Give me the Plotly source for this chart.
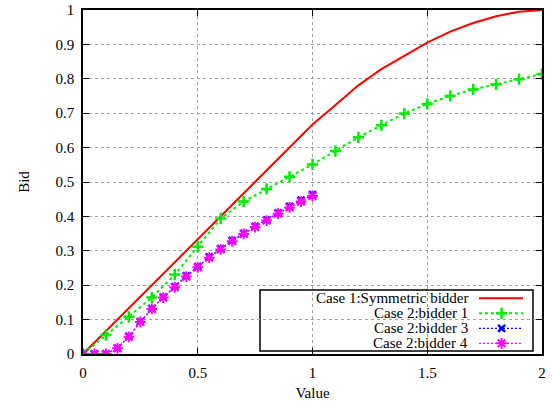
import plotly.graph_objects as go

# ---- data ----
red_x = [0.0, 0.5, 1.0, 1.1, 1.2, 1.3, 1.4, 1.5, 1.6, 1.7, 1.8, 1.9, 2.0]
red_y = [0.0, 0.333, 0.667, 0.724, 0.781, 0.828, 0.867, 0.905, 0.937, 0.962, 0.982, 0.995, 1.0]

b1_x = [0.0, 0.1, 0.2, 0.3, 0.4, 0.5, 0.6, 0.7, 0.8, 0.9, 1.0,
        1.1, 1.2, 1.3, 1.4, 1.5, 1.6, 1.7, 1.8, 1.9, 2.0]
b1_y = [0.0, 0.055, 0.108, 0.164, 0.231, 0.312, 0.394, 0.443, 0.48, 0.515, 0.551,
        0.590, 0.630, 0.665, 0.699, 0.727, 0.750, 0.769, 0.784, 0.799, 0.814]

b34_x = [0.0, 0.05, 0.1, 0.15, 0.2, 0.25, 0.3, 0.35, 0.4, 0.45, 0.5,
         0.55, 0.6, 0.65, 0.7, 0.75, 0.8, 0.85, 0.9, 0.95, 1.0]
b3_y = [0.0, 0.0, 0.0, 0.017, 0.051, 0.094, 0.132, 0.165, 0.196, 0.227, 0.254,
        0.282, 0.306, 0.330, 0.351, 0.371, 0.390, 0.410, 0.429, 0.447, 0.463]
b4_y = [0.0, 0.0, 0.0, 0.0165, 0.050, 0.093, 0.131, 0.164, 0.194, 0.225, 0.252,
        0.280, 0.304, 0.328, 0.349, 0.369, 0.388, 0.408, 0.426, 0.443, 0.459]

names = ["Case 1:Symmetric bidder", "Case 2:bidder 1", "Case 2:bidder 3", "Case 2:bidder 4"]

x_ticks = [0, 0.5, 1, 1.5, 2]
x_ticklabels = ["0", "0.5", "1", "1.5", "2"]
y_ticks = [0, 0.1, 0.2, 0.3, 0.4, 0.5, 0.6, 0.7, 0.8, 0.9, 1.0]
y_ticklabels = ["0", "0.1", "0.2", "0.3", "0.4", "0.5", "0.6", "0.7", "0.8", "0.9", "1"]

FONT = "Liberation Serif"

styles = [
    dict(color="#ff0000", dash="solid", width=2, symbol=None, size=0, mlw=0),
    dict(color="#00ee00", dash="dot", width=2, symbol="cross-thin", size=8, mlw=2.5),
    dict(color="#0000ff", dash="2px,2px", width=1.2, symbol="x-thin", size=7, mlw=2.5),
    dict(color="#ff00ff", dash="2px,2px", width=1.2, symbol="asterisk", size=9, mlw=2),
]

fig = go.Figure()

series = [(red_x, red_y), (b1_x, b1_y), (b34_x, b3_y), (b34_x, b4_y)]
for (xs, ys), st, nm in zip(series, styles, names):
    if st["symbol"] is None:
        fig.add_trace(go.Scatter(x=xs, y=ys, mode="lines", name=nm, showlegend=False,
                                 line=dict(color=st["color"], width=st["width"], dash=st["dash"])))
    else:
        fig.add_trace(go.Scatter(x=xs, y=ys, mode="lines+markers", name=nm, showlegend=False,
                                 line=dict(color=st["color"], width=st["width"], dash=st["dash"]),
                                 marker=dict(symbol=st["symbol"], size=st["size"], color=st["color"],
                                             line=dict(color=st["color"], width=st["mlw"]))))

# ---- custom gnuplot-style legend (paper-fraction layout on overlay axes) ----
row_y = [0.1619, 0.1183, 0.0747, 0.0311]
sample_x0, sample_x1, marker_x, text_x = 0.8627, 0.9586, 0.912, 0.843
for yy, st, nm in zip(row_y, styles, names):
    fig.add_trace(go.Scatter(x=[sample_x0, sample_x1], y=[yy, yy], mode="lines", xaxis="x2", yaxis="y2",
                             showlegend=False, hoverinfo="skip",
                             line=dict(color=st["color"], width=st["width"], dash=st["dash"])))
    if st["symbol"] is not None:
        fig.add_trace(go.Scatter(x=[marker_x], y=[yy], mode="markers", xaxis="x2", yaxis="y2",
                                 showlegend=False, hoverinfo="skip",
                                 marker=dict(symbol=st["symbol"], size=st["size"], color=st["color"],
                                             line=dict(color=st["color"], width=st["mlw"]))))
    fig.add_annotation(x=text_x, y=yy, xref="paper", yref="paper", text=nm, showarrow=False,
                       xanchor="right", yanchor="middle", font=dict(family=FONT, size=15, color="black"))

fig.add_shape(type="rect", xref="paper", yref="paper", x0=0.3856, x1=0.9804, y0=0.0087, y1=0.186,
              line=dict(color="black", width=1.5), fillcolor="white", layer="between")

axis_common = dict(showline=True, linecolor="black", linewidth=1.5, mirror="ticks",
                   ticks="inside", ticklen=6, tickcolor="black", tickwidth=1,
                   showgrid=True, gridcolor="#a0a0a0", gridwidth=1, griddash="dot",
                   zeroline=False, automargin=False,
                   tickfont=dict(family=FONT, size=15, color="black"))

fig.update_layout(
    width=553, height=405,
    margin=dict(l=83, r=11, t=10, b=51),
    paper_bgcolor="white", plot_bgcolor="white",
    font=dict(family=FONT, size=15, color="black"),
    xaxis=dict(range=[0, 2], tickvals=x_ticks, ticktext=x_ticklabels,
               title=dict(text="Value", font=dict(family=FONT, size=15), standoff=8),
               ticklabelstandoff=4, **axis_common),
    yaxis=dict(range=[0, 1], tickvals=y_ticks, ticktext=y_ticklabels,
               title=dict(text="Bid", font=dict(family=FONT, size=15), standoff=22),
               ticklabelstandoff=4, **axis_common),
    xaxis2=dict(range=[0, 1], overlaying="x", visible=False, domain=[0, 1]),
    yaxis2=dict(range=[0, 1], overlaying="y", visible=False, domain=[0, 1]),
    showlegend=False,
)

fig.write_html("out.html")
